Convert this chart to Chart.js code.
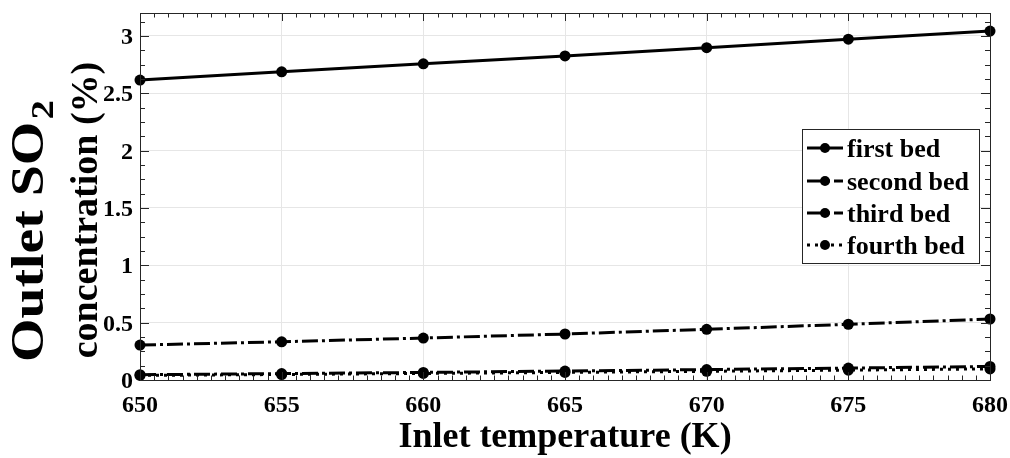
<!DOCTYPE html>
<html>
<head>
<meta charset="utf-8">
<script src="https://cdn.jsdelivr.net/npm/chart.js@4/dist/chart.umd.min.js"></script>
<style>
  html, body { margin: 0; padding: 0; background: #fff; }
  #wrap { width: 1010px; height: 458px; position: relative; }
</style>
</head>
<body>
<div id="wrap"><canvas id="c" width="1010" height="458"></canvas></div>
<script>
// Outlet SO2 concentration (%) of each converter bed versus inlet temperature (K)
const inletTemps = [650, 655, 660, 665, 670, 675, 680];
const firstBed   = [2.615, 2.687, 2.757, 2.826, 2.898, 2.972, 3.042];
const secondBed  = [0.305, 0.333, 0.366, 0.401, 0.442, 0.486, 0.532];
const thirdBed   = [0.046, 0.056, 0.066, 0.078, 0.091, 0.104, 0.118];
const fourthBed  = [0.040, 0.048, 0.057, 0.066, 0.076, 0.086, 0.097];
const seriesNames = ['first bed', 'second bed', 'third bed', 'fourth bed'];

const xTickValues = [650, 655, 660, 665, 670, 675, 680];
const xTickLabels = ['650', '655', '660', '665', '670', '675', '680'];
const yTickValues = [0, 0.5, 1, 1.5, 2, 2.5, 3];
const yTickLabels = ['0', '0.5', '1', '1.5', '2', '2.5', '3'];

const INK = '#000';
const AXIS = '#262626';
const SERIF = '"Liberation Serif", "Times New Roman", serif';
const dashStyles = [[], [16, 4, 3, 4], [16, 4, 3, 4], [3, 5]];

const seriesValues = [firstBed, secondBed, thirdBed, fourthBed];
const datasets = seriesValues.map((vals, i) => ({
  label: seriesNames[i],
  data: inletTemps.map((t, k) => ({ x: t, y: vals[k] })),
  borderColor: INK,
  backgroundColor: INK,
  borderWidth: 3,
  borderDash: dashStyles[i],
  pointRadius: 5.5,
  pointBorderWidth: 0,
  pointBackgroundColor: INK,
  tension: 0,
  clip: false
}));

// Box, inward ticks, labels, titles and legend drawn over the plotted data
const framePlugin = {
  id: 'frame',
  afterDraw(chart) {
    const ctx = chart.ctx;
    const xs = chart.scales.x, ys = chart.scales.y;
    const L = chart.chartArea.left, R = chart.chartArea.right;
    const T = chart.chartArea.top, B = chart.chartArea.bottom;
    ctx.save();

    // axis box
    ctx.strokeStyle = AXIS;
    ctx.lineWidth = 1;
    ctx.strokeRect(Math.round(L) + 0.5, Math.round(T) + 0.5, Math.round(R - L), Math.round(B - T));

    // x ticks (major every 5 K, minor every 0.5 K), top and bottom
    ctx.beginPath();
    for (let v = xs.min; v <= xs.max + 1e-9; v += 0.5) {
      const px = Math.round(xs.getPixelForValue(v)) + 0.5;
      const major = Math.abs(v / 5 - Math.round(v / 5)) < 1e-6;
      const len = major ? 8 : 4.5;
      ctx.moveTo(px, B); ctx.lineTo(px, B - len);
      ctx.moveTo(px, T); ctx.lineTo(px, T + len);
    }
    // y ticks (major every 0.5, minor every 0.125), left and right
    for (let v = ys.min; v <= ys.max + 1e-9; v += 0.125) {
      const py = Math.round(ys.getPixelForValue(v)) + 0.5;
      const major = Math.abs(v / 0.5 - Math.round(v / 0.5)) < 1e-6;
      const len = major ? 9 : 5;
      ctx.moveTo(L, py); ctx.lineTo(L + len, py);
      ctx.moveTo(R, py); ctx.lineTo(R - len, py);
    }
    ctx.stroke();

    // tick labels
    ctx.fillStyle = INK;
    ctx.font = 'bold 24px ' + SERIF;
    ctx.textAlign = 'center';
    ctx.textBaseline = 'alphabetic';
    xTickValues.forEach((v, i) => {
      ctx.fillText(xTickLabels[i], xs.getPixelForValue(v), 412);
    });
    ctx.textAlign = 'right';
    yTickValues.forEach((v, i) => {
      ctx.fillText(yTickLabels[i], L - 7, ys.getPixelForValue(v) + 8);
    });

    // x title
    ctx.textAlign = 'center';
    ctx.font = 'bold 36px ' + SERIF;
    ctx.fillText('Inlet temperature (K)', 565, 447);

    // y title, two rotated lines; the first one carries a subscript
    ctx.save();
    ctx.translate(43, 231);
    ctx.rotate(-Math.PI / 2);
    ctx.textAlign = 'left';
    const bigFont = 'bold 46px ' + SERIF, subFont = 'bold 32px ' + SERIF;
    ctx.font = bigFont;
    const w1 = ctx.measureText('Outlet SO').width;
    ctx.font = subFont;
    const w2 = ctx.measureText('2').width;
    const natural = w1 + 2 + w2;
    const stretch = 262 / natural;
    ctx.scale(stretch, 1);
    const start = -natural / 2;
    ctx.font = bigFont;
    ctx.fillText('Outlet SO', start, 0);
    ctx.font = subFont;
    ctx.fillText('2', start + w1 + 2, 10);
    ctx.restore();

    ctx.save();
    ctx.translate(97, 210);
    ctx.rotate(-Math.PI / 2);
    ctx.textAlign = 'center';
    ctx.font = 'bold 38px ' + SERIF;
    ctx.fillText('concentration (%)', 0, 0);
    ctx.restore();

    // legend
    const bx = 802.5, by = 129.5, bw = 177, bh = 134;
    ctx.fillStyle = '#fff';
    ctx.fillRect(bx, by, bw, bh);
    ctx.strokeStyle = AXIS;
    ctx.lineWidth = 1;
    ctx.strokeRect(bx, by, bw, bh);
    const rowY = [148, 181, 213, 245];
    chart.data.datasets.forEach((ds, i) => {
      const y = rowY[i];
      ctx.strokeStyle = INK;
      ctx.lineWidth = 3;
      ctx.setLineDash(ds.borderDash);
      ctx.beginPath();
      ctx.moveTo(807, y); ctx.lineTo(843, y);
      ctx.stroke();
      ctx.setLineDash([]);
      ctx.fillStyle = INK;
      ctx.beginPath();
      ctx.arc(825, y, 5, 0, Math.PI * 2);
      ctx.fill();
      ctx.font = 'bold 26px ' + SERIF;
      ctx.textAlign = 'left';
      ctx.fillText(ds.label, 847, y + 9);
    });

    ctx.restore();
  }
};

new Chart(document.getElementById('c'), {
  type: 'line',
  data: { datasets },
  options: {
    responsive: false,
    animation: false,
    devicePixelRatio: 1,
    layout: { padding: { left: 140, right: 20, top: 13, bottom: 78 } },
    plugins: { legend: { display: false }, tooltip: { enabled: false } },
    scales: {
      x: {
        type: 'linear', min: 650, max: 680,
        afterBuildTicks: s => { s.ticks = xTickValues.map(v => ({ value: v })); },
        ticks: { display: false },
        border: { display: false },
        grid: { color: '#e6e6e6', lineWidth: 1, drawTicks: false }
      },
      y: {
        type: 'linear', min: 0, max: 3.2,
        afterBuildTicks: s => { s.ticks = yTickValues.map(v => ({ value: v })); },
        ticks: { display: false },
        border: { display: false },
        grid: { color: '#e6e6e6', lineWidth: 1, drawTicks: false }
      }
    }
  },
  plugins: [framePlugin]
});
</script>
</body>
</html>
